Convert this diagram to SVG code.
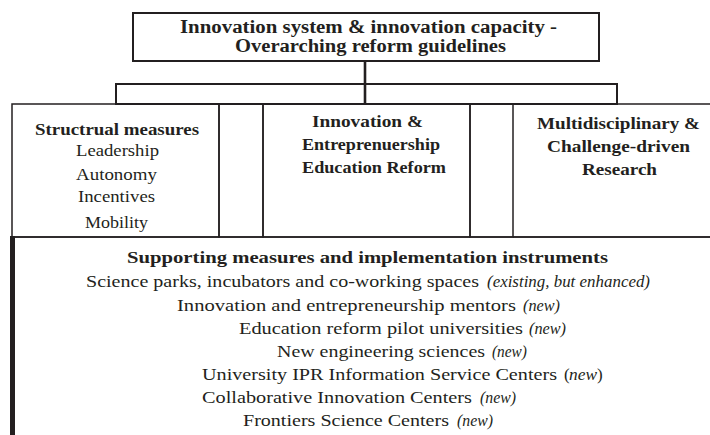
<svg xmlns="http://www.w3.org/2000/svg" width="710" height="435" viewBox="0 0 710 435">
<style>
.bg{fill:#ffffff}
.box{fill:none;stroke:#231f20;stroke-width:2}
.thin{fill:none;stroke:#231f20;stroke-width:1.5}
.conn{fill:none;stroke:#231f20;stroke-width:2.6}
.thick{fill:none;stroke:#231f20;stroke-width:5}
.t{fill:#231f20}
.b{font-weight:bold;font-size:17.5px}
.bt{font-weight:bold;font-size:18.5px}
.r{font-size:17px}
.i{font-size:17px;font-style:italic}
</style>
<rect class="bg" x="0" y="0" width="710" height="435"/>

<g id="connectors">
  <line class="conn" x1="365" y1="61" x2="365" y2="104"/>
  <rect class="box" x="116" y="84" width="501" height="20"/>
</g>

<g font-family="Liberation Serif, Tinos, Times New Roman, Noto Serif, serif" class="t">
<g id="overarching">
  <rect class="box" x="133" y="13" width="466" height="48"/>
  <text class="bt" x="180" y="33" textLength="377" lengthAdjust="spacingAndGlyphs">Innovation system &amp; innovation capacity -</text>
  <text class="bt" x="235" y="52" textLength="271" lengthAdjust="spacingAndGlyphs">Overarching reform guidelines</text>
</g>

<g id="structural">
  <rect class="thin" x="12" y="104" width="207" height="133"/>
  <text class="b" x="35" y="135" textLength="164" lengthAdjust="spacingAndGlyphs">Structrual measures</text>
  <text class="r" x="76" y="156" textLength="83" lengthAdjust="spacingAndGlyphs">Leadership</text>
  <text class="r" x="76" y="180" textLength="81" lengthAdjust="spacingAndGlyphs">Autonomy</text>
  <text class="r" x="78" y="202" textLength="77" lengthAdjust="spacingAndGlyphs">Incentives</text>
  <text class="r" x="85" y="228" textLength="63" lengthAdjust="spacingAndGlyphs">Mobility</text>
</g>

<g id="gap1">
  <rect class="thin" x="219" y="104" width="44" height="133"/>
</g>

<g id="education">
  <rect class="thin" x="263" y="104" width="207" height="133"/>
  <text class="b" x="312" y="127" textLength="111" lengthAdjust="spacingAndGlyphs">Innovation &amp;</text>
  <text class="b" x="302" y="150" textLength="138" lengthAdjust="spacingAndGlyphs">Entreprenuership</text>
  <text class="b" x="302" y="173" textLength="144" lengthAdjust="spacingAndGlyphs">Education Reform</text>
</g>

<g id="gap2">
  <rect class="thin" x="470" y="104" width="43" height="133"/>
</g>

<g id="research">
  <path class="thin" d="M513 104 H710 M513 237 H710"/>
  <text class="b" x="537" y="129" textLength="163" lengthAdjust="spacingAndGlyphs">Multidisciplinary &amp;</text>
  <text class="b" x="547" y="152" textLength="143" lengthAdjust="spacingAndGlyphs">Challenge-driven</text>
  <text class="b" x="582" y="175" textLength="75" lengthAdjust="spacingAndGlyphs">Research</text>
</g>

<g id="supporting">
  <line class="thin" x1="12" y1="237" x2="710" y2="237"/>
  <line class="thick" x1="12.5" y1="236" x2="12.5" y2="435"/>
  <text class="b" x="127" y="263" textLength="481" lengthAdjust="spacingAndGlyphs">Supporting measures and implementation instruments</text>
  <text class="r" x="86" y="287" textLength="393" lengthAdjust="spacingAndGlyphs">Science parks, incubators and co-working spaces</text>
  <text class="i" x="487" y="287" textLength="163" lengthAdjust="spacingAndGlyphs">(existing, but enhanced)</text>
  <text class="r" x="177" y="311" textLength="339" lengthAdjust="spacingAndGlyphs">Innovation and entrepreneurship mentors</text>
  <text class="i" x="523" y="311" textLength="37" lengthAdjust="spacingAndGlyphs">(new)</text>
  <text class="r" x="239" y="334" textLength="284" lengthAdjust="spacingAndGlyphs">Education reform pilot universities</text>
  <text class="i" x="529" y="334" textLength="37" lengthAdjust="spacingAndGlyphs">(new)</text>
  <text class="r" x="277" y="357" textLength="208" lengthAdjust="spacingAndGlyphs">New engineering sciences</text>
  <text class="i" x="492" y="357" textLength="35" lengthAdjust="spacingAndGlyphs">(new)</text>
  <text class="r" x="202" y="380" textLength="355" lengthAdjust="spacingAndGlyphs">University IPR Information Service Centers</text>
  <text class="r" x="564" y="380">(</text>
  <text class="i" x="569" y="380" textLength="28" lengthAdjust="spacingAndGlyphs">new</text>
  <text class="r" x="597" y="380">)</text>
  <text class="r" x="202" y="403" textLength="270" lengthAdjust="spacingAndGlyphs">Collaborative Innovation Centers</text>
  <text class="i" x="480" y="403" textLength="36" lengthAdjust="spacingAndGlyphs">(new)</text>
  <text class="r" x="243" y="426" textLength="206" lengthAdjust="spacingAndGlyphs">Frontiers Science Centers</text>
  <text class="i" x="457" y="426" textLength="36" lengthAdjust="spacingAndGlyphs">(new)</text>
</g>
</g>
</svg>
